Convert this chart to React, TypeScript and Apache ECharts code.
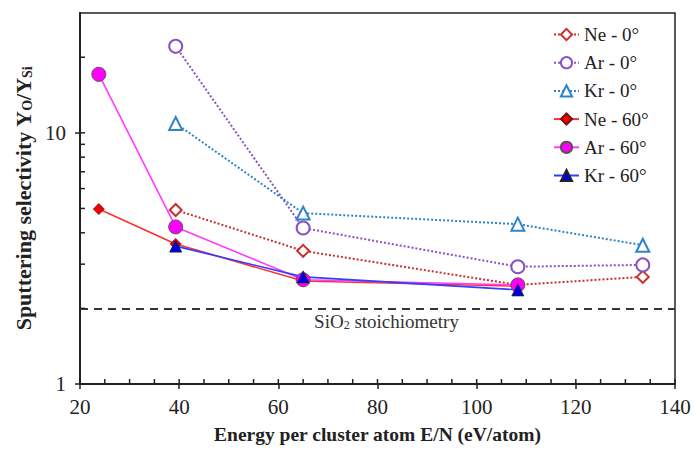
import React, { useEffect, useRef } from "react";
import * as echarts from "echarts";

const energyNe0 = [39.3, 65, 108.3, 133.5];
const ratioNe0 = [4.93, 3.39, 2.48, 2.67];
const energyAr0 = [39.3, 65, 108.3, 133.5];
const ratioAr0 = [22.1, 4.18, 2.93, 2.98];
const energyKr0 = [39.3, 65, 108.3, 133.5];
const ratioKr0 = [10.9, 4.79, 4.33, 3.57];
const energyNe60 = [23.8, 39.3, 65, 108.3];
const ratioNe60 = [4.97, 3.61, 2.57, 2.45];
const energyAr60 = [23.8, 39.3, 65, 108.3];
const ratioAr60 = [17.1, 4.22, 2.6, 2.48];
const energyKr60 = [39.3, 65, 108.3];
const ratioKr60 = [3.54, 2.67, 2.37];

const seriesNames = ["Ne - 0°", "Ar - 0°", "Kr - 0°", "Ne - 60°", "Ar - 60°", "Kr - 60°"];
const xMajorTicks = [20, 40, 60, 80, 100, 120, 140];
const xMinorTicks = [25, 30, 35, 45, 50, 55, 65, 70, 75, 85, 90, 95, 105, 110, 115, 125, 130, 135];
const yMajorTicks = [1, 10];
const yMinorTicks = [2, 3, 4, 5, 6, 7, 8, 9, 20];
const stoichiometry = 2;

const serif = "Liberation Serif";

const pairs = (xs: number[], ys: number[]) => xs.map((x, i) => [x, ys[i]]);

export default function App() {
  const ref = useRef<HTMLDivElement>(null);
  useEffect(() => {
    if (!ref.current) return;
    const chart = echarts.init(ref.current, null, { renderer: "svg" });

    const tickData: number[][] = [];
    xMajorTicks.forEach((v) => tickData.push([0, v]));
    xMinorTicks.forEach((v) => tickData.push([0, v]));
    yMajorTicks.forEach((v) => tickData.push([1, v]));
    yMinorTicks.forEach((v) => tickData.push([1, v]));

    const openStyle = (c: string) => ({ color: "#fff", borderColor: c, borderWidth: 2 });
    const tickRich = { t: { fontFamily: serif, fontSize: 21, color: "#222" } };

    chart.setOption({
      animation: false,
      backgroundColor: "#fff",
      textStyle: { fontFamily: serif },
      grid: {
        left: 80,
        right: 19,
        top: 13,
        bottom: 65,
        show: true,
        borderColor: "#222",
        borderWidth: 1.5,
      },
      legend: {
        orient: "vertical",
        left: 548,
        top: 20,
        itemWidth: 25,
        itemHeight: 14,
        itemGap: 9.2,
        data: seriesNames,
        formatter: (name: string) => `{t|${name}}`,
        textStyle: {
          fontFamily: serif,
          fontSize: 19,
          lineHeight: 19,
          color: "#222",
          rich: { t: { fontFamily: serif, fontSize: 19, lineHeight: 19, color: "#222" } },
        },
      },
      xAxis: {
        type: "value",
        min: 20,
        max: 140,
        interval: 20,
        name: "Energy per cluster atom E/N (eV/atom)",
        nameLocation: "middle",
        nameGap: 40,
        nameTextStyle: { fontFamily: serif, fontSize: 19.5, fontWeight: "bold", color: "#222" },
        axisLine: { lineStyle: { color: "#222", width: 2 } },
        axisTick: { show: true, inside: false, length: 5, lineStyle: { color: "#222", width: 1.5 } },
        axisLabel: {
          fontFamily: serif,
          fontSize: 21,
          color: "#222",
          margin: 12,
          formatter: (v: number) => `{t|${v}}`,
          rich: tickRich,
        },
        splitLine: { show: false },
      },
      yAxis: {
        type: "log",
        logBase: 10,
        min: 1,
        max: 30,
        name: "Sputtering selectivity Y{sub|O}/Y{sub|Si}",
        nameLocation: "middle",
        nameGap: 40,
        nameTextStyle: {
          fontFamily: serif,
          fontSize: 22,
          fontWeight: "bold",
          color: "#222",
          rich: {
            sub: {
              fontFamily: serif,
              fontSize: 14,
              fontWeight: "bold",
              color: "#222",
              verticalAlign: "bottom",
              padding: [6, 0, 0, 0],
            },
          },
        },
        axisLine: { lineStyle: { color: "#222", width: 2 } },
        axisTick: { show: true, inside: false, length: 5, lineStyle: { color: "#222", width: 1.5 } },
        axisLabel: {
          fontFamily: serif,
          fontSize: 21,
          color: "#222",
          margin: 14,
          showMaxLabel: false,
          formatter: (v: number) => (v === 1 || v === 10 ? `{t|${v}}` : ""),
          rich: tickRich,
        },
        splitLine: { show: false },
      },
      series: [
        {
          type: "custom",
          name: "ticks",
          silent: true,
          clip: false,
          z: 5,
          data: tickData,
          renderItem: (params: any, api: any) => {
            const kind = api.value(0);
            const v = api.value(1);
            if (kind === 0) {
              const p = api.coord([v, 1]);
              return {
                type: "line",
                shape: { x1: p[0], y1: p[1], x2: p[0], y2: p[1] - 5 },
                style: { stroke: "#222", lineWidth: 1.5 },
              };
            }
            const p = api.coord([20, v]);
            return {
              type: "line",
              shape: { x1: p[0], y1: p[1], x2: p[0] + 5, y2: p[1] },
              style: { stroke: "#222", lineWidth: 1.5 },
            };
          },
        },
        {
          type: "line",
          name: seriesNames[0],
          data: pairs(energyNe0, ratioNe0),
          symbol: "diamond",
          symbolSize: 12,
          lineStyle: { color: "#C8302E", width: 2, type: [2, 2] },
          itemStyle: openStyle("#C8302E"),
          z: 3,
          markLine: {
            silent: true,
            symbol: "none",
            data: [{ yAxis: stoichiometry }],
            lineStyle: { color: "#333", width: 2, type: [8, 6] },
            label: {
              position: "insideMiddleBottom",
              distance: 4,
              padding: [0, 0, 0, 18],
              formatter: "{n|SiO}{sub|2}{n| stoichiometry}",
              fontFamily: serif,
              fontSize: 19,
              color: "#333",
              rich: {
                n: { fontFamily: serif, fontSize: 19, color: "#333" },
                sub: {
                  fontFamily: serif,
                  fontSize: 12,
                  color: "#333",
                  verticalAlign: "bottom",
                  padding: [7, 0, 0, 0],
                },
              },
            },
          },
        },
        {
          type: "line",
          name: seriesNames[1],
          data: pairs(energyAr0, ratioAr0),
          symbol: "circle",
          symbolSize: 13,
          lineStyle: { color: "#8A52C2", width: 2, type: [2, 2] },
          itemStyle: openStyle("#8A52C2"),
          z: 3,
        },
        {
          type: "line",
          name: seriesNames[2],
          data: pairs(energyKr0, ratioKr0),
          symbol: "triangle",
          symbolSize: 13,
          lineStyle: { color: "#2D84C8", width: 2, type: [2, 2] },
          itemStyle: openStyle("#2D84C8"),
          z: 3,
        },
        {
          type: "line",
          name: seriesNames[3],
          data: pairs(energyNe60, ratioNe60),
          symbol: "diamond",
          symbolSize: 11,
          lineStyle: { color: "#FF3030", width: 1.6 },
          itemStyle: { color: "#F00000", borderColor: "#7a1010", borderWidth: 0.8 },
          z: 4,
        },
        {
          type: "line",
          name: seriesNames[4],
          data: pairs(energyAr60, ratioAr60),
          symbol: "circle",
          symbolSize: 14,
          lineStyle: { color: "#FF3CFF", width: 1.6 },
          itemStyle: { color: "#FF00FF", borderColor: "#555", borderWidth: 1 },
          z: 4,
        },
        {
          type: "line",
          name: seriesNames[5],
          data: pairs(energyKr60, ratioKr60),
          symbol: "triangle",
          symbolSize: 12,
          lineStyle: { color: "#3040FF", width: 1.6 },
          itemStyle: { color: "#0000E0", borderColor: "#222", borderWidth: 0.8 },
          z: 4,
        },
      ],
    });
    return () => chart.dispose();
  }, []);
  return <div ref={ref} style={{ width: 694, height: 449, position: "absolute", left: 0, top: 0 }} />;
}
